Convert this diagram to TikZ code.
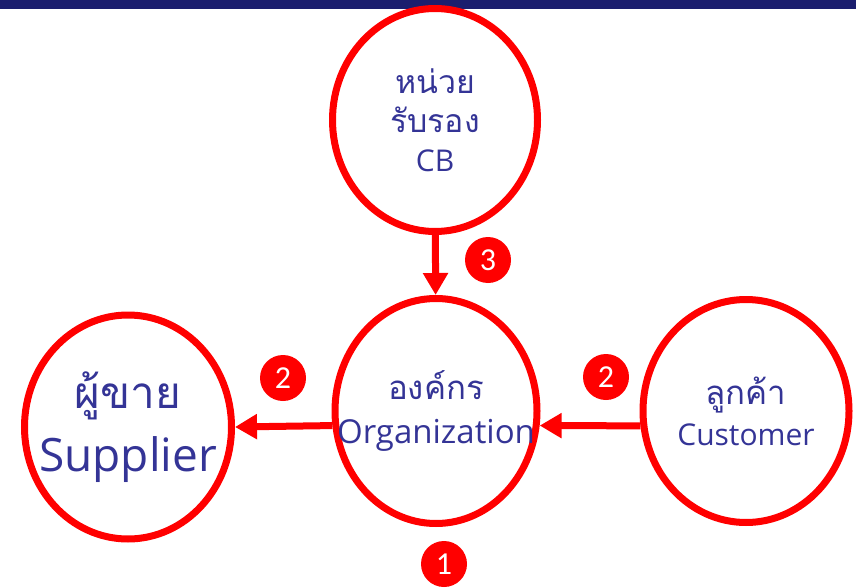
\documentclass[tikz,border=0pt]{standalone}
\usepackage{fontspec}
\setmainfont{Open Sans}
\newfontfamily\thaifont[Script=Thai]{Loma}
\newfontfamily\numfont{Carlito}
\usetikzlibrary{arrows.meta,
  shapes.geometric
}
\definecolor{navybar}{RGB}{27,30,110}
\definecolor{labelblue}{RGB}{52,52,150}
\tikzstyle{party} = [ellipse, draw=red, line width=7pt, align=center,
  text=labelblue, inner sep=-30pt]
\tikzstyle{flow} = [red, line width=7pt, -{Triangle[length=22pt,width=24pt]}]
\tikzstyle{stepnum} = [circle, fill=red, text=white, minimum size=46pt,
  inner sep=0pt, font=\numfont\fontsize{32}{32}\selectfont]

\begin{document}
\begin{tikzpicture}[x=1pt,y=-1pt]
  \useasboundingbox (0,0) rectangle (856,588);

  % top bar
  \fill[navybar] (0,0) rectangle (856,9.5);

  % CB
  \path (435,120) node[party, minimum width=205, minimum height=223,
    font=\fontsize{30}{39}\selectfont] (cb)
    {{\thaifont\fontsize{32}{39}\selectfont หน่วย}\\
     {\thaifont\fontsize{32}{39}\selectfont รับรอง}\\CB};

  % organization
  \path (436,411) node[party, minimum width=202, minimum height=225,
    font=\fontsize{33}{44}\selectfont] (org)
    {{\thaifont\fontsize{33}{44}\selectfont องค์กร}\\Organization};

  % customer
  \path (746,411) node[party, minimum width=206, minimum height=223,
    font=\fontsize{30}{41}\selectfont] (cust)
    {{\thaifont\fontsize{33}{41}\selectfont ลูกค้า}\\Customer};

  % supplier
  \path (128,427) node[party, minimum width=207, minimum height=224,
    font=\fontsize{46}{63}\selectfont] (supp)
    {{\thaifont\fontsize{44}{63}\selectfont ผู้ขาย}\\Supplier};

  % flows
  \draw[flow] (cb) -- (org);
  \draw[flow] (cust.188) -- (org.352);
  \draw[flow] (org.188) -- (supp.east);

  % step numbers
  \path (488,260) node[stepnum] (n3) {3};
  \path (283,378) node[stepnum] (n2a) {2};
  \path (606,377) node[stepnum] (n2b) {2};
  \path (444,564) node[stepnum] (n1) {1};
\end{tikzpicture}
\end{document}
